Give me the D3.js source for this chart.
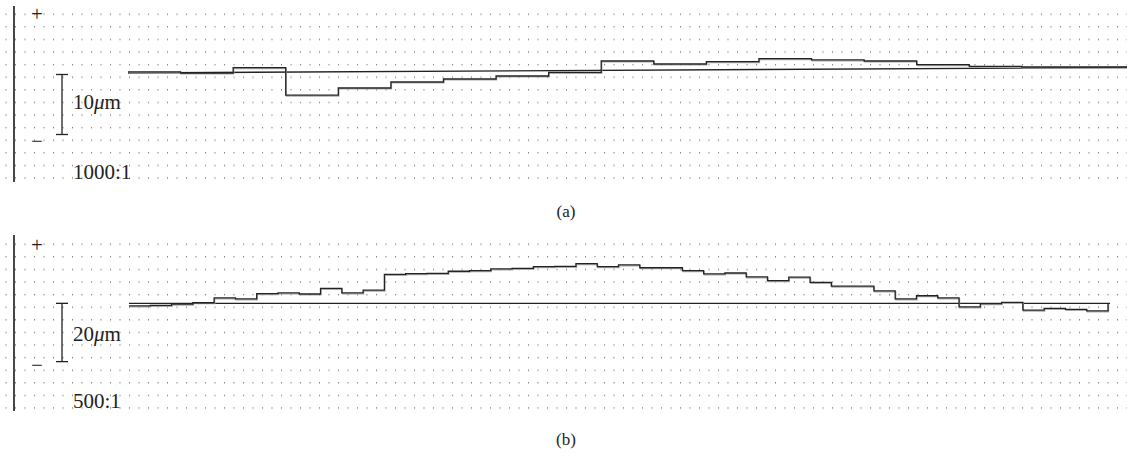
<!DOCTYPE html>
<html><head><meta charset="utf-8">
<script src="https://cdn.jsdelivr.net/npm/d3@7"></script>
<style>html,body{margin:0;padding:0;background:#fff;}svg{display:block;} text{font-family:"Liberation Serif","Times New Roman",Times,serif;}</style>
</head><body>
<svg id="chart" width="1127" height="456"></svg>
<script>
// ---- data (micrometres, relative to reference line start) ----
const stepsA = [0.2, 0.0, 0.9, -3.7, -2.5, -1.5, -1.0, -0.5, 0.1, 2.0, 1.5, 1.9, 2.4, 2.2, 2.0, 1.4, 1.1, 1.0, 1.0];
const refA = [0.0, 0.92];
const stepsB = [-0.9, -0.7, -0.3, 0.2, 1.9, 1.5, 3.3, 3.6, 3.2, 5.1, 3.6, 4.5, 9.9, 10.2, 10.3, 11.0,
  11.2, 11.8, 12.0, 12.6, 12.7, 13.6, 12.6, 13.2, 12.2, 12.2, 11.2, 10.1, 10.4, 9.1, 7.8, 9.0,
  7.2, 5.9, 5.9, 4.3, 1.5, 2.6, 1.9, -1.2, -0.1, 0.3, -2.3, -1.7, -2.1, -2.6];
const refB = [0.0, 0.0];
const scaleBarA = 10, scaleBarB = 20;
const ratioA = "1000:1", ratioB = "500:1";
const captions = ["(a)", "(b)"];

const svg = d3.select("#chart");

// dotted background grid
const defs = svg.append("defs");
function dotPattern(id, y0) {
  const p = defs.append("pattern").attr("id", id).attr("patternUnits", "userSpaceOnUse")
    .attr("x", 5.5).attr("y", y0).attr("width", 9.5).attr("height", 12.6);
  p.append("rect").attr("x", 0).attr("y", 0).attr("width", 1).attr("height", 1.4).attr("fill", "#7a7a7a");
}
dotPattern("dotsA", 13.5);
dotPattern("dotsB", 243.5);

function panel(cfg) {
  const g = svg.append("g");
  g.append("rect").attr("x", 0).attr("y", cfg.top).attr("width", 1127).attr("height", cfg.bottom - cfg.top + 2)
    .attr("fill", `url(#${cfg.pat})`);
  const y = d3.scaleLinear().domain(cfg.ydom).range([cfg.bottom, cfg.top]);
  const x = d3.scaleLinear().domain([0, cfg.steps.length]).range(cfg.xr);
  // left axis line
  g.append("line").attr("x1", 14).attr("x2", 14).attr("y1", cfg.top - 1).attr("y2", cfg.bottom + 1)
    .attr("stroke", "#333").attr("stroke-width", 1.8);
  // + / − markers
  g.append("text").attr("x", 37).attr("y", cfg.plusY).attr("text-anchor", "middle")
    .attr("font-size", 21).attr("fill", "#222").text("+");
  g.append("text").attr("x", 37).attr("y", cfg.minusY).attr("text-anchor", "middle")
    .attr("font-size", 21).attr("fill", "#222").text("\u2212");
  // scale bar
  const b0 = y(cfg.barStart), b1 = y(cfg.barStart - cfg.bar);
  g.append("line").attr("x1", 62).attr("x2", 62).attr("y1", b0).attr("y2", b1).attr("stroke", "#222").attr("stroke-width", 1.3);
  [b0, b1].forEach(v => g.append("line").attr("x1", 56).attr("x2", 68).attr("y1", v).attr("y2", v)
    .attr("stroke", "#222").attr("stroke-width", 1.3));
  const t = g.append("text").attr("x", 73).attr("y", cfg.barLabelY)
    .attr("font-size", 21).attr("fill", "#222");
  t.append("tspan").text(String(cfg.bar));
  t.append("tspan").attr("font-style", "italic").text("\u03bc");
  t.append("tspan").text("m");
  g.append("text").attr("x", 73).attr("y", cfg.ratioY)
    .attr("font-size", 21).attr("fill", "#222").text(cfg.ratio);
  // reference line
  const xRef = d3.scaleLinear().domain([0, cfg.ref.length - 1]).range(cfg.refXr);
  const refLine = d3.line().x((d, i) => xRef(i)).y(d => y(d));
  g.append("path").attr("d", refLine(cfg.ref)).attr("fill", "none").attr("stroke", "#222").attr("stroke-width", 1.4);
  // step profile
  const pts = cfg.steps.map((v, i) => [i, v]);
  pts.push([cfg.steps.length, cfg.steps[cfg.steps.length - 1]]);
  if (cfg.closeToRef) pts.push([cfg.steps.length, cfg.ref[cfg.ref.length - 1]]);
  const stepLine = d3.line().x(d => x(d[0])).y(d => y(d[1])).curve(d3.curveStepAfter);
  g.append("path").attr("d", stepLine(pts)).attr("fill", "none").attr("stroke", "#aaa").attr("stroke-width", 1.2)
    .attr("transform", "translate(0.6,1)");
  g.append("path").attr("d", stepLine(pts)).attr("fill", "none").attr("stroke", "#222").attr("stroke-width", 1.3);
  // caption
  svg.append("text").attr("x", 566).attr("y", cfg.capY).attr("text-anchor", "middle")
    .attr("font-size", 17).attr("fill", "#222").text(cfg.caption);
}

panel({ top: 7, bottom: 181, pat: "dotsA", ydom: [-18, 11], xr: [128, 1127], refXr: [128, 1127],
  steps: stepsA, ref: refA, bar: scaleBarA, barStart: -0.25, barLabelY: 109, ratio: ratioA, ratioY: 179,
  plusY: 21, minusY: 148, caption: captions[0], capY: 217, closeToRef: false });
panel({ top: 236, bottom: 410, pat: "dotsB", ydom: [-36.6, 23.1], xr: [129, 1108], refXr: [129, 1110],
  steps: stepsB, ref: refB, bar: scaleBarB, barStart: 0, barLabelY: 341, ratio: ratioB, ratioY: 408,
  plusY: 252, minusY: 372, caption: captions[1], capY: 445, closeToRef: true });
</script>
</body></html>
